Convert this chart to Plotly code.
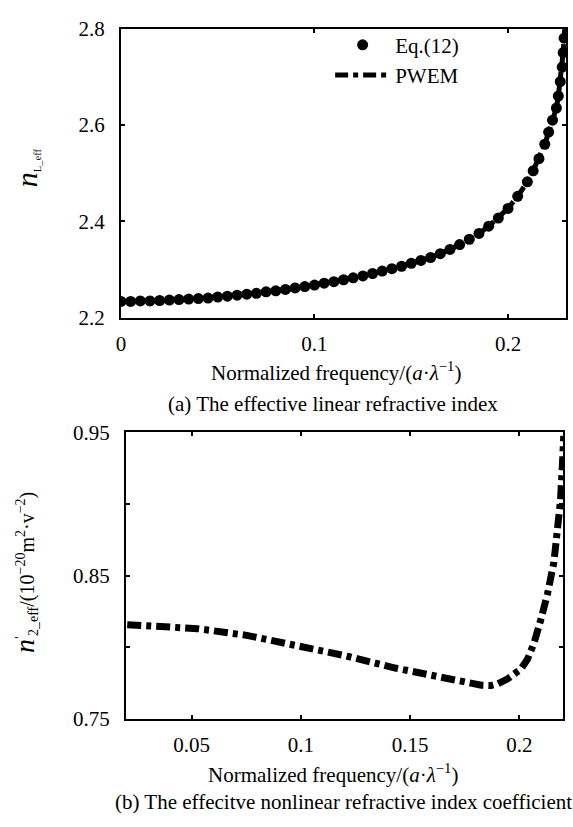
import plotly.graph_objects as go

# ---------- data (a) effective linear refractive index ----------
freq_a = [0.000, 0.005, 0.010, 0.015, 0.020, 0.025, 0.030, 0.035, 0.040, 0.045,
          0.050, 0.055, 0.060, 0.065, 0.070, 0.075, 0.080, 0.085, 0.090, 0.095,
          0.100, 0.105, 0.110, 0.115, 0.120, 0.125, 0.130, 0.135, 0.140, 0.145,
          0.150, 0.155, 0.160, 0.165, 0.170, 0.175, 0.180, 0.185, 0.190, 0.195,
          0.200, 0.205, 0.210, 0.213, 0.216, 0.219, 0.221, 0.223, 0.225, 0.226,
          0.227, 0.228, 0.2285, 0.229, 0.2295]
n_eq12 = [2.234, 2.234, 2.235, 2.235, 2.236, 2.237, 2.238, 2.239, 2.240, 2.241,
          2.243, 2.245, 2.247, 2.249, 2.251, 2.254, 2.256, 2.259, 2.262, 2.265,
          2.268, 2.272, 2.275, 2.279, 2.283, 2.287, 2.292, 2.297, 2.302, 2.307,
          2.313, 2.319, 2.325, 2.333, 2.342, 2.352, 2.363, 2.375, 2.390, 2.407,
          2.427, 2.452, 2.482, 2.505, 2.530, 2.560, 2.585, 2.610, 2.635, 2.660,
          2.690, 2.720, 2.750, 2.780, 2.810]
n_pwem = [2.234, 2.234, 2.235, 2.235, 2.236, 2.237, 2.238, 2.239, 2.240, 2.241,
          2.243, 2.245, 2.247, 2.249, 2.251, 2.254, 2.256, 2.259, 2.262, 2.265,
          2.268, 2.272, 2.275, 2.279, 2.283, 2.287, 2.292, 2.297, 2.302, 2.307,
          2.313, 2.319, 2.325, 2.333, 2.342, 2.352, 2.363, 2.375, 2.390, 2.407,
          2.427, 2.452, 2.482, 2.505, 2.530, 2.560, 2.585, 2.610, 2.635, 2.660,
          2.690, 2.720, 2.750, 2.780, 2.810]

# ---------- data (b) effective nonlinear refractive index coefficient ----------
freq_b = [0.0206, 0.0527, 0.0753, 0.0998, 0.1206, 0.1432, 0.1645, 0.1720, 0.1766,
          0.1826, 0.1871, 0.1901, 0.1947, 0.2007, 0.2037, 0.2067, 0.2097, 0.2128,
          0.2158, 0.2173, 0.2188, 0.2196, 0.2203]
n2_pwem = [0.8158, 0.8130, 0.8083, 0.8008, 0.7940, 0.7855, 0.7790, 0.7768, 0.7752,
           0.7735, 0.7733, 0.7745, 0.7780, 0.7848, 0.7916, 0.8029, 0.8187, 0.8368,
           0.8594, 0.8797, 0.9023, 0.9249, 0.9475]

xticks_a = [0, 0.1, 0.2]
xticktext_a = ["0", "0.1", "0.2"]
yticks_a = [2.2, 2.4, 2.6, 2.8]
yticktext_a = ["2.2", "2.4", "2.6", "2.8"]
xticks_b = [0.05, 0.1, 0.15, 0.2]
xticktext_b = ["0.05", "0.1", "0.15", "0.2"]
yticks_b = [0.75, 0.85, 0.95]
yticktext_b = ["0.75", "0.85", "0.95"]
yminor_b = [0.8, 0.9]

FONT = "Liberation Serif, Times New Roman, serif"
W, H = 573, 827

fig = go.Figure()

fig.add_trace(go.Scatter(
    x=freq_a, y=n_pwem, mode="lines", name="PWEM",
    line=dict(color="black", width=5, dash="13px,5px,5px,5px"),
    xaxis="x", yaxis="y", legendrank=2))
fig.add_trace(go.Scatter(
    x=freq_a, y=n_eq12, mode="markers", name="Eq.(12)",
    marker=dict(color="black", size=11, symbol="circle"),
    xaxis="x", yaxis="y", legendrank=1))
fig.add_trace(go.Scatter(
    x=freq_b, y=n2_pwem, mode="lines", name="PWEM (b)", showlegend=False,
    line=dict(color="black", width=7, dash="14px,5px,5px,5px"),
    xaxis="x2", yaxis="y2"))

def px2x(p):
    return p / W

def px2y(p):
    return 1 - p / H

axis_common = dict(
    showline=True, linecolor="black", linewidth=2, mirror="ticks",
    ticks="inside", ticklen=4, tickwidth=1.5, tickcolor="black",
    showgrid=False, zeroline=False,
    tickfont=dict(family=FONT, size=21, color="black"),
)

fig.update_layout(
    width=W, height=H,
    margin=dict(l=0, r=0, t=0, b=0),
    paper_bgcolor="white", plot_bgcolor="white",
    font=dict(family=FONT, color="black"),
    xaxis=dict(domain=[px2x(117), px2x(566)], anchor="y", range=[0, 0.23],
               tickmode="array", tickvals=xticks_a, ticktext=xticktext_a,
               ticklabelstandoff=6, **axis_common),
    yaxis=dict(domain=[px2y(315), px2y(17)], anchor="x", range=[2.2, 2.8],
               tickmode="array", tickvals=yticks_a, ticktext=yticktext_a,
               ticklabelstandoff=10, **axis_common),
    xaxis2=dict(domain=[px2x(122), px2x(563)], anchor="y2", range=[0.02, 0.22],
                tickmode="array", tickvals=xticks_b, ticktext=xticktext_b,
                ticklabelstandoff=6, **axis_common),
    yaxis2=dict(domain=[px2y(728), px2y(433)], anchor="x2", range=[0.75, 0.95],
                tickmode="array", tickvals=yticks_b, ticktext=yticktext_b,
                ticklabelstandoff=10,
                minor=dict(tickmode="array", tickvals=yminor_b, ticks="inside",
                           ticklen=4, tickwidth=1.5, tickcolor="black",
                           showgrid=False),
                **axis_common),
    legend=dict(x=px2x(328), y=px2y(13), xanchor="left", yanchor="top",
                bgcolor="rgba(0,0,0,0)", borderwidth=0,
                font=dict(family=FONT, size=21, color="black"),
                itemwidth=55, tracegroupgap=0, traceorder="normal"),
    showlegend=True,
)

ann_font = dict(family=FONT, size=21, color="black")
annotations = [
    dict(text="Normalized frequency/(<i>a</i>·<i>λ</i><sup>−1</sup>)",
         x=px2x(334), y=px2y(370), xref="paper", yref="paper",
         xanchor="center", yanchor="middle", showarrow=False, font=ann_font),
    dict(text="(a) The effective linear refractive index",
         x=px2x(331), y=px2y(404), xref="paper", yref="paper",
         xanchor="center", yanchor="middle", showarrow=False, font=ann_font),
    dict(text="Normalized frequency/(<i>a</i>·<i>λ</i><sup>−1</sup>)",
         x=px2x(331), y=px2y(784), xref="paper", yref="paper",
         xanchor="center", yanchor="middle", showarrow=False, font=ann_font),
    dict(text="(b) The effecitve nonlinear refractive index coefficient",
         x=px2x(341), y=px2y(814), xref="paper", yref="paper",
         xanchor="center", yanchor="middle", showarrow=False, font=ann_font),
    dict(text="<span style='font-size:30px'><i>n</i></span><sub>L_eff</sub>",
         x=px2x(22), y=px2y(160), xref="paper", yref="paper", textangle=-90,
         xanchor="center", yanchor="middle", showarrow=False,
         font=dict(family=FONT, size=15, color="black")),
    dict(text="<span style='font-size:28px'><i>n</i></span><sup>′</sup><sub>2_eff</sub>/(10<sup>−20</sup>m<sup>2</sup>·v<sup>−2</sup>)",
         x=px2x(20), y=px2y(577), xref="paper", yref="paper", textangle=-90,
         xanchor="center", yanchor="middle", showarrow=False,
         font=dict(family=FONT, size=20, color="black")),
]
fig.update_layout(annotations=annotations)

fig.write_html("out.html", config={"displayModeBar": False},
               post_script="document.body.style.margin='0px';")
